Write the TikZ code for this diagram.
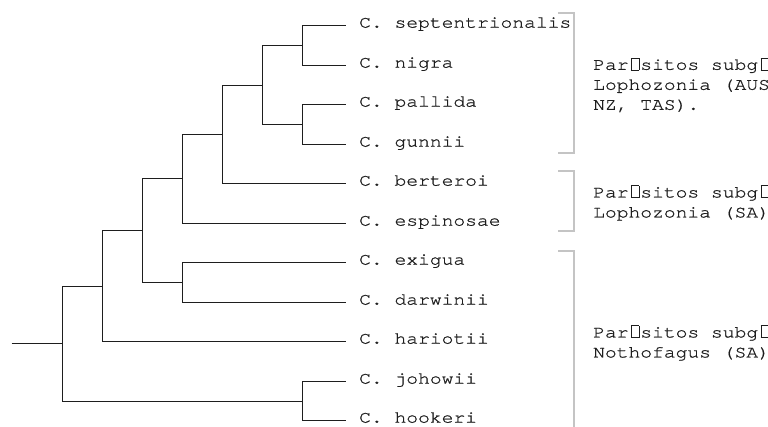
\documentclass[tikz,border=0pt]{standalone}
\usepackage{fontspec}
\newfontfamily\treemono[FakeStretch=1.155,FakeBold=0.9]{texgyrecursor-regular.otf}
\definecolor{brk}{HTML}{C4C4C4}
\definecolor{ink}{HTML}{1E1E1E}
\newcommand\tofu{\makebox[11.8pt][l]{\hspace{2.4pt}\setlength{\fboxsep}{0pt}\setlength{\fboxrule}{0.6pt}\fbox{\rule{0pt}{11.5pt}\hspace{7pt}}}}
\tikzset{
  branch/.style={draw=ink, line width=1.8pt},
  leaflab/.style={anchor=mid west, inner sep=0pt, font=\treemono\fontsize{17}{20}\selectfont, text=ink},
  grouplab/.style={anchor=west, inner sep=0pt, align=left, font=\treemono\fontsize{17}{20}\selectfont, text=ink},
  bracket/.style={draw=brk, line width=2pt}
}
\begin{document}
\begin{tikzpicture}[x=1pt,y=-1pt]
\useasboundingbox (0,0) rectangle (768,426);
\clip (0,0) rectangle (768,426);
\fill[white] (0,0) rectangle (768,426);
% leaf tips
\coordinate (L1) at (345.5,25.5);
\coordinate (L2) at (345.5,65.5);
\coordinate (L3) at (345.5,104.5);
\coordinate (L4) at (345.5,144.5);
\coordinate (L5) at (345.5,183.5);
\coordinate (L6) at (345.5,223.5);
\coordinate (L7) at (345.5,262.5);
\coordinate (L8) at (345.5,302.5);
\coordinate (L9) at (345.5,341.5);
\coordinate (L10) at (345.5,381.5);
\coordinate (L11) at (345.5,420.5);
% internal nodes
\coordinate (a) at (302.5,45.5);
\coordinate (b) at (302.5,124.5);
\coordinate (c) at (262.5,85.5);
\coordinate (d) at (222.5,134.5);
\coordinate (e) at (182.5,178.5);
\coordinate (f) at (182.5,282.5);
\coordinate (g) at (142.5,230.5);
\coordinate (h) at (102.5,286.5);
\coordinate (i) at (302.5,401.5);
\coordinate (j) at (62.5,343.5);
\coordinate (root) at (11.5,343.5);
% branches
\draw[branch] (a) |- (L1); \draw[branch] (a) |- (L2);
\draw[branch] (b) |- (L3); \draw[branch] (b) |- (L4);
\draw[branch] (c) |- (a); \draw[branch] (c) |- (b);
\draw[branch] (d) |- (c); \draw[branch] (d) |- (L5);
\draw[branch] (e) |- (d); \draw[branch] (e) |- (L6);
\draw[branch] (f) |- (L7); \draw[branch] (f) |- (L8);
\draw[branch] (g) |- (e); \draw[branch] (g) |- (f);
\draw[branch] (h) |- (g); \draw[branch] (h) |- (L9);
\draw[branch] (i) |- (L10); \draw[branch] (i) |- (L11);
\draw[branch] (j) |- (h); \draw[branch] (j) |- (i);
\draw[branch] (root) -- (j);
% leaf labels
\node[leaflab] (t1) at (359,25.5) {C. septentrionalis};
\node[leaflab] (t2) at (359,65.5) {C. nigra};
\node[leaflab] (t3) at (359,104.5) {C. pallida};
\node[leaflab] (t4) at (359,144.5) {C. gunnii};
\node[leaflab] (t5) at (359,183.5) {C. berteroi};
\node[leaflab] (t6) at (359,223.5) {C. espinosae};
\node[leaflab] (t7) at (359,262.5) {C. exigua};
\node[leaflab] (t8) at (359,302.5) {C. darwinii};
\node[leaflab] (t9) at (359,341.5) {C. hariotii};
\node[leaflab] (t10) at (359,381.5) {C. johowii};
\node[leaflab] (t11) at (359,420.5) {C. hookeri};
% brackets
\draw[bracket] (558,13) -- (574,13) -- (574,153) -- (558,153);
\draw[bracket] (558,171) -- (574,171) -- (574,231) -- (558,231);
\draw[bracket] (558,251) -- (574,251) -- (574,440);
% group labels
\node[grouplab] (g1) at (593,85) {Par\tofu sitos subg\tofu nero\\Lophozonia (AUS,\\NZ, TAS).};
\node[grouplab] (g2) at (593,203) {Par\tofu sitos subg\tofu nero\\Lophozonia (SA)};
\node[grouplab] (g3) at (593,343) {Par\tofu sitos subg\tofu nero\\Nothofagus (SA)};
\end{tikzpicture}
\end{document}
